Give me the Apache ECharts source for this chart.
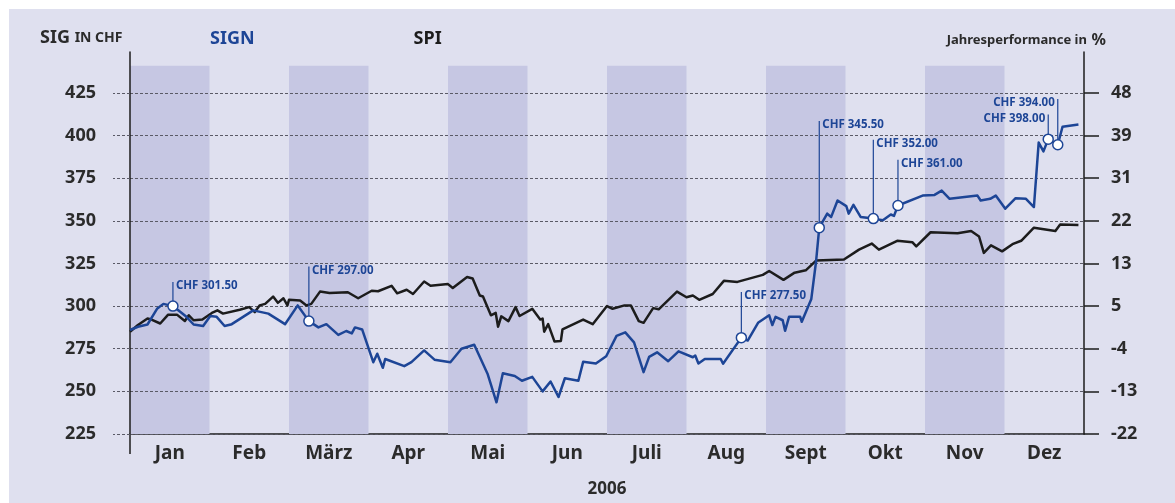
<!DOCTYPE html>
<html><head><meta charset="utf-8">
<script src="https://cdn.jsdelivr.net/npm/echarts@6/dist/echarts.min.js"></script>
<style>
html,body{margin:0;padding:0;background:#fff;width:1175px;height:503px;overflow:hidden}
#bg{position:absolute;left:9px;top:9px;width:1166px;height:494px;background:#dfe0ef}
#chart{position:absolute;left:0;top:0;width:1175px;height:503px}
</style></head><body><div id="bg"></div><div id="chart"></div>
<script>
const months = ['Jan','Feb','März','Apr','Mai','Jun','Juli','Aug','Sept','Okt','Nov','Dez'];
const leftTicks = [225,250,275,300,325,350,375,400,425];
const rightTicks = ['-22','-13','-4','5','13','22','31','39','48'];
const bandStarts = [0,2,4,6,8,10];
const bandTop = 441;

const signX = [0.00,0.10,0.22,0.34,0.42,0.54,0.71,0.80,0.92,1.01,
 1.09,1.19,1.28,1.55,1.74,1.95,2.11,2.25,2.37,2.47,
 2.62,2.72,2.79,2.83,2.92,3.06,3.11,3.18,3.21,3.45,
 3.54,3.70,3.83,4.03,4.17,4.33,4.50,4.61,4.69,4.84,
 4.93,5.06,5.19,5.29,5.39,5.47,5.64,5.70,5.86,5.99,
 6.12,6.23,6.34,6.46,6.53,6.63,6.77,6.90,7.08,7.11,
 7.15,7.23,7.43,7.46,7.69,7.77,7.90,8.04,8.08,8.12,
 8.21,8.24,8.29,8.43,8.45,8.57,8.63,8.67,8.77,8.82,
 8.90,9.01,9.04,9.10,9.19,9.35,9.47,9.57,9.61,9.66,
 9.97,10.12,10.21,10.31,10.66,10.70,10.82,10.89,11.01,11.14,
 11.27,11.37,11.43,11.49,11.55,11.67,11.73,11.93];
const signY = [286.0,287.9,289.2,298.4,301.3,300.0,293.7,289.2,288.3,294.2,
 293.7,288.3,289.4,297.5,295.6,289.4,300.4,291.2,287.5,289.4,
 283.1,285.4,284.0,287.5,286.3,267.1,272.1,263.8,269.0,264.8,
 267.1,274.0,268.6,267.1,275.0,277.3,260.0,243.6,260.6,259.0,
 256.2,258.5,250.0,255.8,246.7,257.7,256.2,267.3,266.3,270.6,
 282.5,284.6,278.7,261.3,270.2,272.9,267.7,273.5,270.0,271.0,
 266.3,269.0,269.0,266.2,281.5,279.8,290.2,294.6,288.9,293.7,
 291.7,285.5,293.7,293.7,290.8,304.2,326.3,346.0,354.2,352.3,
 361.9,358.6,354.2,359.4,352.3,351.3,350.4,353.7,352.9,359.0,
 364.8,365.2,367.7,362.9,364.8,361.9,362.9,364.8,357.1,363.3,
 362.9,358.1,395.9,390.7,397.9,394.6,405.2,406.5];

const spiX = [0.00,0.10,0.22,0.27,0.38,0.48,0.59,0.69,0.74,0.80,
 0.91,1.03,1.10,1.17,1.38,1.50,1.57,1.63,1.70,1.80,
 1.86,1.93,1.98,2.00,2.14,2.22,2.28,2.39,2.51,2.74,
 2.87,3.04,3.12,3.29,3.36,3.48,3.56,3.70,3.78,4.00,
 4.06,4.24,4.31,4.40,4.44,4.54,4.60,4.63,4.67,4.76,
 4.85,4.90,5.06,5.16,5.19,5.21,5.26,5.34,5.42,5.44,
 5.70,5.82,6.00,6.07,6.22,6.30,6.40,6.46,6.58,6.65,
 6.88,7.00,7.08,7.16,7.33,7.47,7.64,7.96,8.04,8.22,
 8.36,8.50,8.63,8.98,9.17,9.33,9.42,9.65,9.84,9.89,
 10.07,10.41,10.58,10.68,10.74,10.83,10.97,11.10,11.21,11.37,
 11.64,11.70,11.93];
const spiY = [285.0,288.9,292.7,292.1,289.8,295.0,295.0,291.3,294.6,291.7,
 292.1,296.0,297.5,295.6,297.9,299.4,296.5,300.4,301.3,305.6,
 301.9,304.6,300.4,303.7,303.3,300.4,301.3,308.5,307.7,308.1,
 304.6,309.0,308.7,311.9,307.5,309.6,307.1,314.4,311.9,312.9,
 310.6,317.1,316.2,306.2,305.6,294.6,296.0,287.9,294.0,291.2,
 299.4,294.2,298.4,292.1,292.7,285.0,289.4,279.2,279.6,286.3,
 292.1,289.4,300.0,298.4,300.4,300.4,291.2,290.2,298.8,298.1,
 308.5,305.2,306.2,303.7,307.1,314.8,314.2,318.3,320.6,315.4,
 319.6,321.0,326.7,327.3,333.1,336.7,333.1,338.3,337.5,335.0,
 343.3,342.7,344.0,340.8,331.2,335.6,332.1,336.3,338.3,346.0,
 344.0,347.9,347.5];

const annIdx  = [5,17,64,77,85,89,104,105];
const annTop  = [314.1,323.2,308.3,408.6,397.6,385.8,412.4,421.5];
const annText = ['CHF 301.50','CHF 297.00','CHF 277.50','CHF 345.50','CHF 352.00','CHF 361.00','CHF 398.00','CHF 394.00'];
const annSide = ['right','right','right','right','right','right','left','left'];

const BLUE = '#1d4596';
const DARK = '#1c1c1c';
const TXT = '#2b2b2b';
const FONT = '"Noto Sans", sans-serif';

const chart = echarts.init(document.getElementById('chart'), null, {renderer:'canvas'});
const signData = signX.map((x,i)=>[x, signY[i]]);
const spiData = spiX.map((x,i)=>[x, spiY[i]]);
const annData = annIdx.map((k,i)=>[signX[k], signY[k], annTop[i]]);

chart.setOption({
  backgroundColor: 'transparent',
  animation: false,
  textStyle: {fontFamily: FONT},
  title: [
    {text: '{a|SIG} {b|IN CHF}', left: 35, top: 24,
     textStyle: {rich: {a: {fontSize: 18, fontWeight: 'bold', color: TXT, fontFamily: FONT},
                        b: {fontSize: 14, fontWeight: 'bold', color: TXT, fontFamily: FONT}}}},
    {text: '{a|Jahresperformance in} {b|%}', right: 64, top: 26,
     textStyle: {rich: {a: {fontSize: 13, fontWeight: 'bold', color: TXT, fontFamily: FONT},
                        b: {fontSize: 16, fontWeight: 'bold', color: TXT, fontFamily: FONT}}}}
  ],
  legend: {
    left: 200, top: 25, icon: 'none', itemWidth: 0, itemGap: 154, selectedMode: false,
    textStyle: {fontSize: 18, fontWeight: 'bold', fontFamily: FONT},
    data: [{name: 'SIGN', textStyle: {color: BLUE}}, {name: 'SPI', textStyle: {color: DARK}}]
  },
  grid: {left: 130, right: 91, top: 52, bottom: 64, containLabel: false},
  xAxis: {
    type: 'value', min: 0, max: 12,
    name: '2006', nameLocation: 'middle', nameGap: 47,
    nameTextStyle: {fontSize: 17, fontWeight: 'bold', color: TXT, fontFamily: FONT},
    axisLine: {onZero: false, lineStyle: {color: DARK, width: 1.5}},
    axisTick: {show: true, customValues: [0], length: 20, lineStyle: {color: DARK, width: 1.5}},
    axisLabel: {customValues: months.map((m,i)=>i+0.5), formatter: v => months[Math.round(v-0.5)],
      fontSize: 19, fontWeight: 'bold', color: TXT, margin: 10, fontFamily: FONT},
    splitLine: {show: false}
  },
  yAxis: [
    {type: 'value', min: 225, max: 449, position: 'left', z: 2,
     axisLine: {show: true, onZero: false, lineStyle: {color: DARK, width: 1.5}},
     axisTick: {show: true, customValues: leftTicks, length: 17, lineStyle: {color: '#5a5a66', width: 1, type: [3,2]}},
     axisLabel: {customValues: leftTicks, margin: 34, fontSize: 18, fontWeight: 'bold', color: TXT, fontFamily: FONT},
     splitLine: {show: true, lineStyle: {color: '#5a5a66', width: 1, type: [3,2]}}
    },
    {type: 'value', min: 225, max: 449, position: 'right', z: 2,
     axisLine: {show: true, onZero: false, lineStyle: {color: DARK, width: 1.5}},
     axisTick: {show: true, customValues: leftTicks, length: 15, lineStyle: {color: DARK, width: 1.5}},
     axisLabel: {customValues: leftTicks, formatter: v => rightTicks[Math.round((v-225)/25)],
       margin: 27, fontSize: 18, fontWeight: 'bold', color: TXT, fontFamily: FONT},
     splitLine: {show: false}
    }
  ],
  series: [
    {name: 'bands', type: 'line', data: [], z: 1, silent: true,
     markArea: {silent: true, itemStyle: {color: '#c6c7e3'},
       data: bandStarts.map(s => [{xAxis: s, yAxis: 225}, {xAxis: s+1, yAxis: bandTop}])}},
    {name: 'SPI', type: 'line', data: spiData, z: 5, symbol: 'none', color: DARK,
     lineStyle: {color: DARK, width: 2.5, join: 'round'}},
    {name: 'SIGN', type: 'line', data: signData, z: 6, symbol: 'none', color: BLUE,
     lineStyle: {color: BLUE, width: 2.5, join: 'round'}},
    {name: 'ann', type: 'custom', z: 10, data: annData, encode: {x: 0, y: 1}, silent: true,
     renderItem: function (params, api) {
       const i = params.dataIndex;
       const p = api.coord([api.value(0), api.value(1)]);
       const t = api.coord([api.value(0), api.value(2)]);
       const right = annSide[i] === 'right';
       return {type: 'group', children: [
         {type: 'line', shape: {x1: p[0], y1: p[1], x2: t[0], y2: t[1]}, style: {stroke: BLUE, lineWidth: 1.2}},
         {type: 'circle', shape: {cx: p[0], cy: p[1], r: 5}, style: {fill: '#fff', stroke: BLUE, lineWidth: 1.5}},
         {type: 'text', x: t[0] + (right ? 3 : -3), y: t[1] + 4,
          style: {text: annText[i], fill: BLUE, font: 'bold 11.5px "Noto Sans"', align: right ? 'left' : 'right', verticalAlign: 'middle'}}
       ]};
     }}
  ]
});
</script></body></html>
